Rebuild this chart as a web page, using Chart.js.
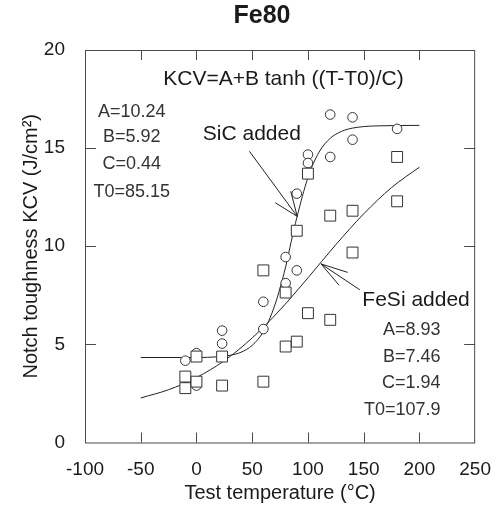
<!DOCTYPE html>
<html lang="en">
<head>
    <meta charset="UTF-8">
    <title>Fe80</title>
    <script src="https://cdn.jsdelivr.net/npm/chart.js"></script>
    <style>
        body { margin: 0; background: #fff; }
    </style>
</head>
<body>
    <canvas id="chart" width="499" height="513"></canvas>

    <script>
        const sicTemp = [-10, 0, 0, 23, 23, 60, 60, 80, 80, 90, 90, 100, 100, 120, 120, 140, 140, 180];
        const sicKcv  = [4.17, 4.55, 2.9, 5.7, 5.04, 7.17, 5.78, 9.45, 8.12, 12.68, 8.77, 14.67, 14.24, 16.71, 14.55, 16.57, 15.43, 15.98];

        const fesiTemp = [-10, -10, 0, 0, 23, 23, 60, 60, 80, 80, 90, 90, 100, 100, 120, 120, 140, 140, 180, 180];
        const fesiKcv  = [3.36, 2.77, 4.38, 3.1, 4.38, 2.9, 8.77, 3.1, 7.64, 4.89, 10.79, 5.14, 13.7, 6.59, 11.56, 6.25, 11.81, 9.68, 14.55, 12.29];

        // Fitted tanh curves
        const sicFitT = [-50, 0, 20, 30, 40, 50, 60, 70, 80, 85, 90, 100, 110, 120, 130, 140, 160, 200];
        const sicFitK = [4.33, 4.33, 4.37, 4.44, 4.6, 4.95, 5.65, 6.95, 8.95, 10.24, 11.45, 13.5, 14.8, 15.5, 15.85, 16.02, 16.13, 16.16];

        const fesiFitT = [-50, -25, 0, 25, 50, 75, 100, 125, 150, 175, 200];
        const fesiFitK = [2.27, 2.69, 3.31, 4.17, 5.33, 6.76, 8.39, 10.08, 11.65, 12.99, 14.03];

        // Tick values
        const xTicks = [-100, -50, 0, 50, 100, 150, 200, 250];
        const yTicks = [0, 5, 10, 15, 20];

        // Fit parameters shown on the plot
        const sicParams = ['A=10.24', 'B=5.92', 'C=0.44', 'T0=85.15'];
        const fesiParams = ['A=8.93', 'B=7.46', 'C=1.94', 'T0=107.9'];

        const FONT = "'Liberation Sans', Arial, sans-serif";
        const INK = '#1a1a1a';

        const toXY = (xs, ys) => xs.map((v, i) => ({ x: v, y: ys[i] }));

        // frame, inward ticks, annotations
        const decor = {
            id: 'decor',
            afterDraw(chart) {
                const { ctx, chartArea: a, scales: { x, y } } = chart;
                const px = v => x.getPixelForValue(v);
                const py = v => y.getPixelForValue(v);
                ctx.save();

                ctx.strokeStyle = '#4a4a4a';
                ctx.lineWidth = 1;
                ctx.strokeRect(a.left + 0.5, a.top + 0.5, a.right - a.left - 1, a.bottom - a.top);

                const seg = (x1, y1, x2, y2) => {
                    ctx.beginPath(); ctx.moveTo(x1, y1); ctx.lineTo(x2, y2); ctx.stroke();
                };
                xTicks.slice(1, -1).forEach(v => {
                    const p = Math.round(px(v)) + 0.5;
                    seg(p, a.bottom, p, a.bottom - 10);
                    seg(p, a.top, p, a.top + 10);
                });
                yTicks.slice(1, -1).forEach(v => {
                    const p = Math.round(py(v)) + 0.5;
                    seg(a.left, p, a.left + 11, p);
                    seg(a.right, p, a.right - 11, p);
                });

                const txt = (s, xv, yv, size, align, weight, color) => {
                    ctx.font = (weight || 'normal') + ' ' + size + 'px ' + FONT;
                    ctx.fillStyle = color || INK;
                    ctx.textAlign = align;
                    ctx.textBaseline = 'middle';
                    ctx.fillText(s, px(xv), py(yv));
                };

                const arrow = (x1v, y1v, x2v, y2v, len, spread) => {
                    const x1 = px(x1v), y1 = py(y1v), x2 = px(x2v), y2 = py(y2v);
                    ctx.strokeStyle = '#222';
                    seg(x1, y1, x2, y2);
                    const ang = Math.atan2(y1 - y2, x1 - x2);
                    [-spread, spread].forEach(d => {
                        seg(x2, y2, x2 + len * Math.cos(ang + d), y2 + len * Math.sin(ang + d));
                    });
                };

                txt('Fe80', 58.8, 21.75, 25, 'center', 'bold');
                txt('KCV=A+B tanh ((T-T0)/C)', 78, 18.5, 21, 'center');

                const sicY = [16.86, 15.59, 14.2, 12.78];
                sicParams.forEach((s, i) => txt(s, -58, sicY[i], 18, 'center', 'normal', '#333'));

                txt('SiC added', 49.7, 15.69, 21, 'center');
                arrow(47.5, 14.84, 90.4, 11.52, 26, 0.38);

                txt('FeSi added', 197, 7.27, 21, 'center');
                arrow(146.6, 7.78, 111.7, 9.1, 28, 0.28);

                const fesiY = [5.74, 4.38, 3.04, 1.66];
                fesiParams.forEach((s, i) => txt(s, 219, fesiY[i], 18, 'right', 'normal', '#333'));

                ctx.restore();
            }
        };

        const ctx = document.getElementById('chart').getContext('2d');
        new Chart(ctx, {
            type: 'scatter',
            data: {
                datasets: [
                    {
                        label: 'FeSi added',
                        data: toXY(fesiTemp, fesiKcv),
                        pointStyle: 'rect',
                        pointRadius: 7.7,
                        borderColor: '#333',
                        backgroundColor: '#fff',
                        pointBorderWidth: 1,
                        order: 0
                    },
                    {
                        label: 'SiC added',
                        data: toXY(sicTemp, sicKcv),
                        pointStyle: 'circle',
                        pointRadius: 4.8,
                        borderColor: '#333',
                        backgroundColor: '#fff',
                        pointBorderWidth: 1,
                        order: 1
                    },
                    {
                        label: 'SiC fit',
                        data: toXY(sicFitT, sicFitK),
                        showLine: true,
                        pointRadius: 0,
                        borderColor: '#222',
                        borderWidth: 1,
                        cubicInterpolationMode: 'monotone',
                        order: 2
                    },
                    {
                        label: 'FeSi fit',
                        data: toXY(fesiFitT, fesiFitK),
                        showLine: true,
                        pointRadius: 0,
                        borderColor: '#222',
                        borderWidth: 1,
                        cubicInterpolationMode: 'monotone',
                        order: 3
                    }
                ]
            },
            options: {
                responsive: false,
                animation: false,
                layout: { padding: { top: 50, right: 19, left: 0, bottom: 0 } },
                plugins: {
                    legend: { display: false },
                    tooltip: { enabled: false }
                },
                scales: {
                    x: {
                        type: 'linear',
                        min: -100,
                        max: 250,
                        afterBuildTicks: s => { s.ticks = xTicks.map(v => ({ value: v })); },
                        afterFit: s => { s.height = 70.5; },
                        grid: { display: false },
                        border: { display: false },
                        ticks: { padding: 8, color: INK, font: { family: FONT, size: 19 } },
                        title: {
                            display: true,
                            text: 'Test temperature (°C)',
                            color: INK,
                            font: { family: FONT, size: 20 },
                            padding: { top: 4, bottom: 8 }
                        }
                    },
                    y: {
                        min: 0,
                        max: 20,
                        afterBuildTicks: s => { s.ticks = yTicks.map(v => ({ value: v })); },
                        afterFit: s => { s.width = 85; },
                        grid: { display: false },
                        border: { display: false },
                        ticks: { padding: 12, color: INK, font: { family: FONT, size: 19 } },
                        title: {
                            display: true,
                            text: 'Notch toughness KCV (J/cm²)',
                            color: INK,
                            font: { family: FONT, size: 20 },
                            padding: { top: 19, bottom: 4 }
                        }
                    }
                }
            },
            plugins: [decor]
        });
    </script>
</body>
</html>
